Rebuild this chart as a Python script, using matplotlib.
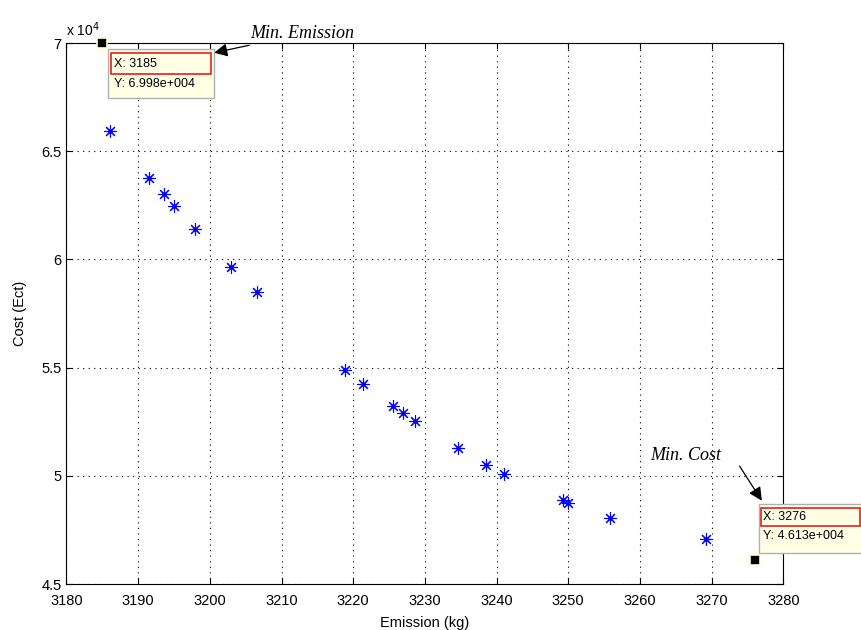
import matplotlib
matplotlib.use('Agg')
import matplotlib.pyplot as plt
import matplotlib.transforms as mtransforms
from matplotlib.patches import Rectangle
from matplotlib.ticker import FuncFormatter

# pareto front (emission in kg, cost in Ect)
emission = [3186.1, 3191.5, 3193.6, 3195.0, 3197.9, 3203.0, 3206.6,
            3218.9, 3221.3, 3225.5, 3226.9, 3228.6, 3234.6, 3238.5,
            3241.1, 3249.3, 3250.0, 3255.8, 3269.2]
cost = [65930, 63750, 63040, 62480, 61420, 59660, 58490,
        54890, 54230, 53240, 52900, 52550, 51270, 50490,
        50070, 48870, 48750, 48060, 47080]

# extreme points picked with data cursor
min_em = (3185, 69980)
min_cost = (3276, 46130)

plt.rcParams['font.family'] = ['Liberation Sans', 'DejaVu Sans']

fig = plt.figure(figsize=(8.62, 6.30), dpi=100)
ax = fig.add_axes([0.0771, 0.0730, 0.8316, 0.8587])

ax.plot(emission, cost, linestyle='none', marker=(8, 2, 0), color='#0000ff',
        markersize=9, markeredgewidth=0.8)
ax.plot(emission, cost, linestyle='none', marker='o', color='#0000ff',
        markersize=2.2)
for pt in (min_em, min_cost):
    ax.plot(pt[0], pt[1], linestyle='none', marker='s', color='k',
            markersize=6.5, markeredgecolor='#ffffcc', markeredgewidth=1.2,
            clip_on=False, zorder=5)

ax.set_xlim(3180, 3280)
ax.set_ylim(45000, 70000)
ax.set_xticks(range(3180, 3281, 10))
ax.set_yticks([45000, 50000, 55000, 60000, 65000, 70000])
ax.yaxis.set_major_formatter(FuncFormatter(lambda v, p: '%g' % (v / 1e4)))
ax.grid(True, color='k', linestyle=(0, (1, 4)), linewidth=0.8)
ax.tick_params(direction='in', top=True, right=True, labelsize=10.5, length=4)
ax.tick_params(axis='x', pad=7)
for s in ax.spines.values():
    s.set_linewidth(0.8)
ax.text(0.0, 1.008, 'x 10$^4$', transform=ax.transAxes, fontsize=10,
        ha='left', va='bottom')

ax.set_xlabel('Emission (kg)', fontsize=10.5, labelpad=6)
ax.set_ylabel('Cost (Ect)', fontsize=10.5, labelpad=10)


# data tips, offsets in inches from the picked point
def datatip(pt, box, red, ytxt):
    tr = fig.dpi_scale_trans + mtransforms.ScaledTranslation(pt[0], pt[1], ax.transData)
    ax.add_patch(Rectangle(box[:2], box[2], box[3], transform=tr, clip_on=False,
                           facecolor='#ffffe6', edgecolor='#b0b0b0', lw=1.0, zorder=6))
    ax.add_patch(Rectangle(red[:2], red[2], red[3], transform=tr, clip_on=False,
                           facecolor='none', edgecolor='#e02020', lw=1.2, zorder=7))
    ax.text(red[0] + 0.025, red[1] + red[3] / 2, 'X: %g' % pt[0], transform=tr,
            fontsize=9, va='center', ha='left', zorder=8, clip_on=False)
    ax.text(red[0] + 0.025, red[1] - 0.1, ytxt, transform=tr,
            fontsize=9, va='center', ha='left', zorder=8, clip_on=False)


datatip(min_em, (0.06, -0.549, 1.057, 0.49), (0.087, -0.307, 1.0, 0.208),
        'Y: 6.998e+004')
datatip(min_cost, (0.047, 0.068, 1.06, 0.487), (0.061, 0.335, 0.993, 0.177),
        'Y: 4.613e+004')

serif = dict(family=['Liberation Serif', 'DejaVu Serif'], style='italic', fontsize=13)
arrow = dict(arrowstyle='-|>', color='k', lw=0.9, mutation_scale=20,
             shrinkA=0, shrinkB=0)
ax.annotate('Min. Emission', xy=(3200.6, 69550), xytext=(3205.6, 70420),
            ha='left', va='center', arrowprops=arrow, annotation_clip=False, **serif)
ax.annotate('', xy=(3277.0, 48850), xytext=(3273.9, 50450),
            arrowprops=arrow, annotation_clip=False)
ax.text(3261.4, 50960, 'Min. Cost', ha='left', va='center', **serif)

fig.savefig('out.png', dpi=100)
